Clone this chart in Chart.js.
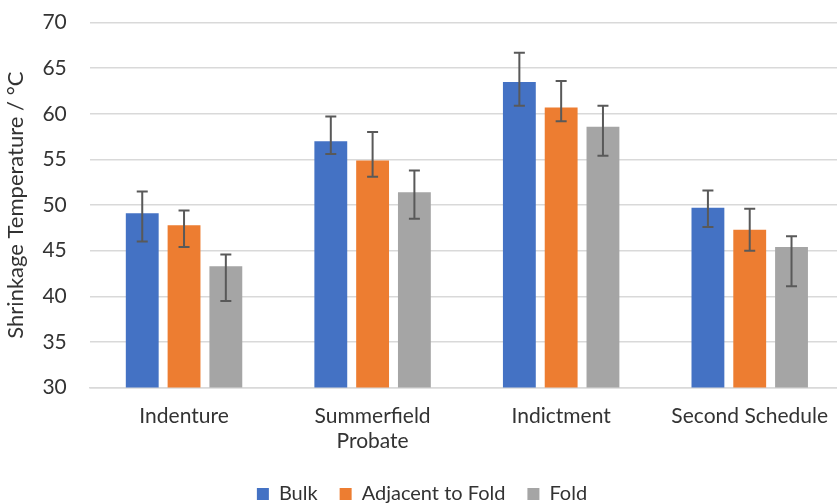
<!DOCTYPE html>
<html>
<head>
<meta charset="utf-8">
<script src="https://cdn.jsdelivr.net/npm/chart.js@4/dist/chart.umd.min.js"></script>
<style>
  html, body { margin: 0; padding: 0; background: #ffffff; overflow: hidden; }
  #wrap { position: relative; width: 845px; height: 519px; margin-top: -13px; }
</style>
</head>
<body>
<div id="wrap"><canvas id="chart"></canvas></div>
<script>
// Document categories
const categories = ['Indenture', ['Summerfield', 'Probate'], 'Indictment', 'Second Schedule'];

// Mean shrinkage temperature (°C) per sampling location
const bulk     = [49.1, 57.0, 63.5, 49.7];
const adjacent = [47.8, 54.9, 60.7, 47.3];
const fold     = [43.3, 51.4, 58.6, 45.4];

// Upper and lower ends of the error bars (°C)
const bulkHigh     = [51.5, 59.7, 66.7, 51.6];
const bulkLow      = [46.0, 55.6, 60.9, 47.6];
const adjacentHigh = [49.4, 58.0, 63.6, 49.6];
const adjacentLow  = [45.4, 53.1, 59.2, 45.0];
const foldHigh     = [44.6, 53.8, 60.9, 46.6];
const foldLow      = [39.5, 48.5, 55.4, 41.1];

// Y axis range and tick step
const yMin = 30, yMax = 70, yStep = 5;

const FONT = 'Lato, "Open Sans", sans-serif';
const TEXT = '#333333';

// Draws the error bars (vertical whisker plus caps) on top of every bar
const errorBarPlugin = {
  id: 'errorBars',
  afterDatasetsDraw(chart) {
    const ctx = chart.ctx;
    const yScale = chart.scales.y;
    chart.data.datasets.forEach((ds, di) => {
      const meta = chart.getDatasetMeta(di);
      if (meta.hidden) return;
      meta.data.forEach((bar, i) => {
        const x = bar.x;
        const yHi = yScale.getPixelForValue(ds.errHigh[i]);
        const yLo = yScale.getPixelForValue(ds.errLow[i]);
        const cap = 5.5;
        ctx.save();
        ctx.strokeStyle = '#595959';
        ctx.lineWidth = 2;
        ctx.beginPath();
        ctx.moveTo(x, yHi); ctx.lineTo(x, yLo);
        ctx.moveTo(x - cap, yHi); ctx.lineTo(x + cap, yHi);
        ctx.moveTo(x - cap, yLo); ctx.lineTo(x + cap, yLo);
        ctx.stroke();
        ctx.restore();
      });
    });
  }
};

const barCommon = {
  categoryPercentage: 0.665,
  barPercentage: 0.786,
  borderWidth: 0
};

new Chart(document.getElementById('chart'), {
  type: 'bar',
  data: {
    labels: categories,
    datasets: [
      Object.assign({ label: 'Bulk', data: bulk, backgroundColor: '#4472C4',
        errHigh: bulkHigh, errLow: bulkLow }, barCommon),
      Object.assign({ label: 'Adjacent to Fold', data: adjacent, backgroundColor: '#ED7D31',
        errHigh: adjacentHigh, errLow: adjacentLow }, barCommon),
      Object.assign({ label: 'Fold', data: fold, backgroundColor: '#A5A5A5',
        errHigh: foldHigh, errLow: foldLow }, barCommon)
    ]
  },
  options: {
    responsive: true,
    maintainAspectRatio: false,
    animation: false,
    events: [],
    layout: { padding: { top: -8, left: 0, right: 1, bottom: -8 } },
    scales: {
      x: {
        grid: { display: false },
        border: { display: true, color: '#d9d9d9', width: 1.5 },
        ticks: {
          color: TEXT,
          font: { family: FONT, size: 21 },
          padding: 8,
          maxRotation: 0,
          autoSkip: false
        }
      },
      y: {
        min: yMin,
        max: yMax,
        grid: { color: '#d9d9d9', lineWidth: 1.5, drawTicks: false },
        border: { display: false },
        ticks: {
          stepSize: yStep,
          color: TEXT,
          font: { family: FONT, size: 21 },
          padding: 23
        },
        title: {
          display: true,
          text: 'Shrinkage Temperature / °C',
          color: TEXT,
          font: { family: FONT, size: 22 },
          padding: { top: 3, bottom: -10 }
        }
      }
    },
    plugins: {
      legend: {
        position: 'bottom',
        labels: {
          color: TEXT,
          font: { family: FONT, size: 20 },
          boxWidth: 12,
          boxHeight: 12,
          padding: 22
        }
      },
      tooltip: { enabled: false }
    }
  },
  plugins: [errorBarPlugin]
});
</script>
</body>
</html>
